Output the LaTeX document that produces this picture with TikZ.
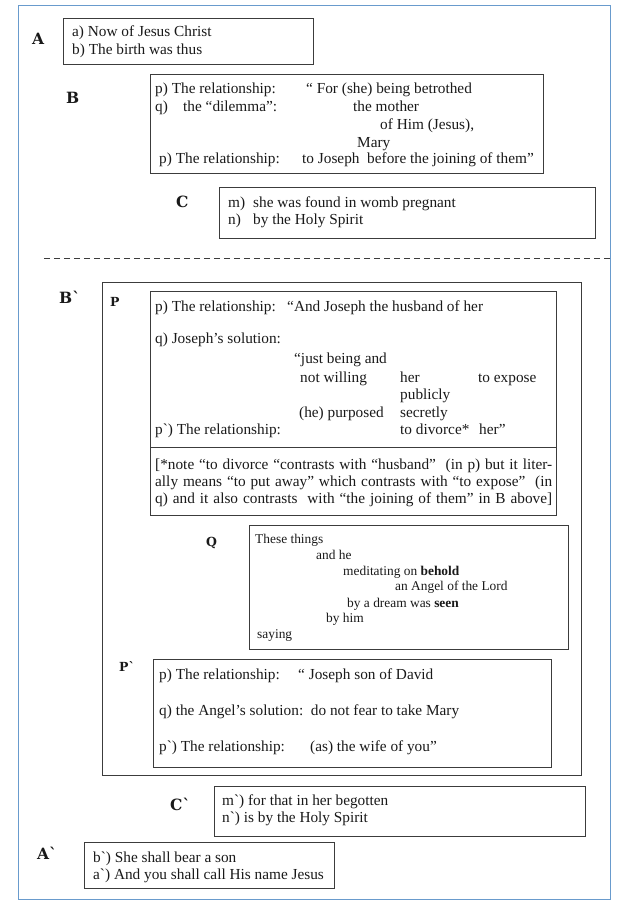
\documentclass[tikz,border=0pt]{standalone}
\usepackage{fontspec}
\setmainfont{Liberation Serif}[Ligatures=TeXOff]
\newfontfamily\lblfont{DejaVu Serif}[Ligatures=TeXOff]
\usetikzlibrary{positioning}
\definecolor{fb}{RGB}{105,155,205}
\definecolor{ln}{RGB}{60,60,60}
\definecolor{tx}{RGB}{25,25,25}
\newcommand{\bq}{\symbol{96}}
\newcommand{\col}[2]{\makebox[#1][l]{#2}}

\begin{document}
\begin{tikzpicture}[x=1pt,y=-1pt,
  box/.style={draw=ln, line width=0.9pt, inner sep=0pt, anchor=north west},
  txt/.style={anchor=base west, inner sep=0pt, text=tx, font=\fontsize{15.3}{17.5}\selectfont},
  small/.style={txt, font=\fontsize{13.4}{15.8}\selectfont},
  lbl/.style={anchor=base west, inner sep=0pt, text=tx, font=\lblfont\bfseries\fontsize{15.5}{18}\selectfont},
  sublbl/.style={lbl, font=\lblfont\bfseries\fontsize{12.5}{15}\selectfont}
]
\useasboundingbox (0,0) rectangle (627,915);
% outer frame
\node[draw=fb, line width=1.4pt, inner sep=0pt, anchor=north west, minimum width=592, minimum height=894] (frame) at (18,5) {};
% A
\node[lbl] (lA) at (32,44.5) {A};
\node[box, minimum width=250, minimum height=46] (boxA) at (63,18) {};
\node[txt] (a1) at (72,37) {a) Now of Jesus Christ};
\node[txt] (a2) at (72,55) {b) The birth was thus};
% B
\node[lbl] (lB) at (66,103.5) {B};
\node[box, minimum width=393, minimum height=99] (boxB) at (150,74) {};
\node[txt] (b1) at (155,94) {\col{151pt}{p) The relationship:}“ For (she) being betrothed};
\node[txt] (b2) at (155,112) {\col{28pt}{q)}\col{170pt}{the “dilemma”:}the mother};
\node[txt] (b3) at (380,130) {of Him (Jesus),};
\node[txt] (b4) at (357,147) {Mary};
\node[txt] (b5) at (159,164) {\col{143pt}{p) The relationship:}to Joseph\ \ before the joining of them”};
% C
\node[lbl] (lC) at (176,207.5) {C};
\node[box, minimum width=376, minimum height=51] (boxC) at (219,187) {};
\node[txt] (c1) at (228,207) {\col{25pt}{m)}she was found in womb pregnant};
\node[txt] (c2) at (228,224) {\col{25pt}{n)}by the Holy Spirit};
% dividing line
\coordinate (dl) at (44,258);
\draw[ln, line width=0.9pt, dash pattern=on 6pt off 4pt] (dl) -- (dl -| frame.east);
% B`
\node[lbl] (lBb) at (59,303) {B\bq};
\node[box, minimum width=479, minimum height=493] (boxBb) at (102,282) {};
% P
\node[sublbl] (lP) at (110,306.5) {P};
\node[box, minimum width=406, minimum height=224] (boxP) at (150,291) {};
\coordinate (psep) at (150,447);
\draw[ln, line width=0.9pt] (psep) -- (psep -| boxP.east);
\node[txt] (p1) at (155,311) {\col{132pt}{p) The relationship:}“And Joseph the husband of her};
\node[txt] (p2) at (155,343) {q) Joseph’s solution:};
\node[txt] (p3) at (294,363) {“just being and};
\node[txt] (p4) at (300,382) {\col{100pt}{not willing}\col{78pt}{her}to expose};
\node[txt] (p5) at (400,399) {publicly};
\node[txt] (p6) at (299,417) {\col{101pt}{(he) purposed}secretly};
\node[txt] (p7) at (155,434) {\col{245pt}{p\bq) The relationship:}\col{79pt}{to divorce*}her”};
\node[txt] (n1) at (155,469) {\makebox[397pt][s]{[*note “to divorce “contrasts with “husband”\ \ (in p) but it liter-}};
\node[txt] (n2) at (155,486) {\makebox[397pt][s]{ally means “to put away” which contrasts with “to expose”\ \ (in}};
\node[txt] (n3) at (155,503) {\makebox[397pt][s]{q) and it also contrasts\ \ with “the joining of them” in B above]}};
% Q
\node[sublbl] (lQ) at (206,546.5) {Q};
\node[box, minimum width=319, minimum height=124] (boxQ) at (249,525) {};
\node[small] (q1) at (255,543.5) {These things};
\node[small] (q2) at (316,559.5) {and he};
\node[small] (q3) at (343,575.5) {meditating on \textbf{behold}};
\node[small] (q4) at (395,590.5) {an Angel of the Lord};
\node[small] (q5) at (347,607.5) {by a dream was \textbf{seen}};
\node[small] (q6) at (326,622.5) {by him};
\node[small] (q7) at (257,638.5) {saying};
% P`
\node[sublbl] (lPb) at (119,671.5) {P\bq};
\node[box, minimum width=398, minimum height=108] (boxPb) at (153,659) {};
\node[txt] (r1) at (159,679) {\col{139pt}{p) The relationship:}“ Joseph son of David};
\node[txt] (r2) at (159,715) {q) the Angel’s solution:\ \ do not fear to take Mary};
\node[txt] (r3) at (159,751) {\col{151pt}{p\bq) The relationship:}(as) the wife of you”};
% C`
\node[lbl] (lCb) at (170,810.5) {C\bq};
\node[box, minimum width=371, minimum height=50] (boxCb) at (214,786) {};
\node[txt] (s1) at (222,805) {m\bq) for that in her begotten};
\node[txt] (s2) at (222,822) {n\bq) is by the Holy Spirit};
% A`
\node[lbl] (lAb) at (37,859.5) {A\bq};
\node[box, minimum width=250, minimum height=46] (boxAb) at (84,842) {};
\node[txt] (t1) at (93,862) {b\bq) She shall bear a son};
\node[txt] (t2) at (93,879) {a\bq) And you shall call His name Jesus};
\end{tikzpicture}
\end{document}
